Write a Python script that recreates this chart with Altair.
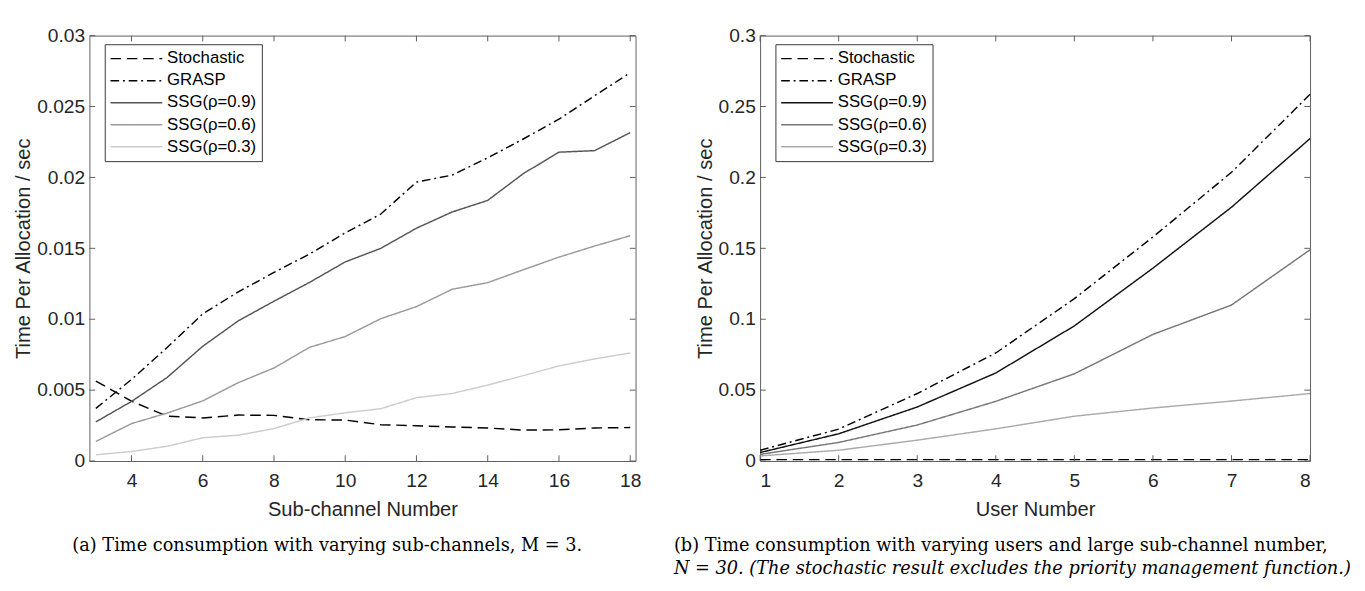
import altair as alt
import pandas as pd

# ---------------- data ----------------
series_names = ["Stochastic", "GRASP", "SSG(ρ=0.9)", "SSG(ρ=0.6)", "SSG(ρ=0.3)"]

sub_channels = [3, 4, 5, 6, 7, 8, 9, 10, 11, 12, 13, 14, 15, 16, 17, 18]
a_stochastic = [0.00564, 0.00422, 0.00316, 0.00304, 0.00324, 0.00322, 0.00291, 0.00289,
                0.00256, 0.00249, 0.00240, 0.00233, 0.00218, 0.00220, 0.00233, 0.00236]
a_grasp = [0.00371, 0.00575, 0.00800, 0.01038, 0.01193, 0.01330, 0.01460, 0.01609,
           0.01742, 0.01967, 0.02016, 0.02138, 0.02271, 0.02411, 0.02576, 0.02738]
a_ssg09 = [0.00276, 0.00420, 0.00589, 0.00809, 0.00989, 0.01127, 0.01260, 0.01404,
           0.01500, 0.01642, 0.01756, 0.01838, 0.02027, 0.02178, 0.02189, 0.02316]
a_ssg06 = [0.00138, 0.00264, 0.00338, 0.00424, 0.00553, 0.00656, 0.00802, 0.00878,
           0.01004, 0.01089, 0.01211, 0.01258, 0.01349, 0.01438, 0.01516, 0.01589]
a_ssg03 = [0.00044, 0.00067, 0.00104, 0.00164, 0.00182, 0.00229, 0.00304, 0.00340,
           0.00369, 0.00447, 0.00476, 0.00536, 0.00602, 0.00671, 0.00720, 0.00762]

users = [1, 2, 3, 4, 5, 6, 7, 8]
b_stochastic = [0.0010, 0.0010, 0.0010, 0.0010, 0.0010, 0.0010, 0.0010, 0.0010]
b_grasp = [0.0076, 0.0225, 0.0476, 0.0762, 0.1145, 0.1580, 0.2036, 0.2586]
b_ssg09 = [0.0060, 0.0192, 0.0381, 0.0621, 0.0953, 0.1360, 0.1790, 0.2274]
b_ssg06 = [0.0047, 0.0131, 0.0254, 0.0421, 0.0615, 0.0893, 0.1100, 0.1490]
b_ssg03 = [0.0036, 0.0076, 0.0147, 0.0227, 0.0316, 0.0374, 0.0423, 0.0476]

a_xticks = [4, 6, 8, 10, 12, 14, 16, 18]
a_yticks = [0, 0.005, 0.01, 0.015, 0.02, 0.025, 0.03]
b_xticks = [1, 2, 3, 4, 5, 6, 7, 8]
b_yticks = [0, 0.05, 0.1, 0.15, 0.2, 0.25, 0.3]

caption_a = "(a) Time consumption with varying sub-channels, M = 3."
caption_b1 = "(b) Time consumption with varying users and large sub-channel number,"
caption_b2 = "N = 30. (The stochastic result excludes the priority management function.)"

# ---------------- styling ----------------
SANS = "Liberation Sans"
SERIF = "DejaVu Serif"
AXIS_COLOR = "#5a5a5a"
TEXT_COLOR = "#262626"
dashes = [[11, 6], [9, 4, 2, 4], [1, 0], [1, 0], [1, 0]]


def long_frame(xs, cols):
    rows = []
    for name, vals in zip(series_names, cols):
        for x, v in zip(xs, vals):
            rows.append({"x": x, "value": v, "series": name})
    return pd.DataFrame(rows)


def panel(xs, cols, colors, xdom, ydom, xticks, yticks, yfmt, xtitle, W, H, title):
    df = long_frame(xs, cols)
    xs_scale = alt.Scale(domain=xdom, nice=False, zero=False)
    ys_scale = alt.Scale(domain=ydom, nice=False, zero=False)
    x_axis = alt.Axis(values=xticks, ticks=False, domain=False, grid=False,
                      title=xtitle, labelPadding=11, titlePadding=9,
                      labelFont=SANS, labelFontSize=20, labelColor=TEXT_COLOR,
                      titleFont=SANS, titleFontSize=21, titleFontWeight="normal",
                      titleColor=TEXT_COLOR)
    y_axis = alt.Axis(values=yticks, format=yfmt, ticks=False, domain=False, grid=False,
                      title="Time Per Allocation / sec", labelPadding=5, titlePadding=3,
                      labelFont=SANS, labelFontSize=20, labelColor=TEXT_COLOR,
                      titleFont=SANS, titleFontSize=21, titleFontWeight="normal",
                      titleColor=TEXT_COLOR)
    leg = alt.Legend(
        title=None, orient="none", legendX=16, legendY=9,
        symbolType="stroke", symbolSize=2916, symbolStrokeWidth=1.5,
        labelFont=SANS, labelFontSize=17.5, labelColor="black",
        strokeColor="#333333", fillColor="white", padding=5,
        rowPadding=3, clipHeight=20, labelOffset=4, labelLimit=300,
    )
    lines = alt.Chart(df).mark_line(strokeWidth=1.5).encode(
        x=alt.X("x:Q", scale=xs_scale, axis=x_axis),
        y=alt.Y("value:Q", scale=ys_scale, axis=y_axis),
        color=alt.Color("series:N", sort=series_names,
                        scale=alt.Scale(domain=series_names, range=colors), legend=leg),
        strokeDash=alt.StrokeDash("series:N", sort=series_names,
                                  scale=alt.Scale(domain=series_names, range=dashes), legend=leg),
    )
    xt = pd.DataFrame({"v": xticks})
    yt = pd.DataFrame({"v": yticks})
    tick_b = alt.Chart(xt).mark_rule(color=AXIS_COLOR).encode(
        x=alt.X("v:Q", scale=xs_scale, axis=x_axis), y=alt.value(H), y2=alt.value(H - 6))
    tick_t = alt.Chart(xt).mark_rule(color=AXIS_COLOR).encode(
        x=alt.X("v:Q", scale=xs_scale, axis=x_axis), y=alt.value(0), y2=alt.value(6))
    tick_l = alt.Chart(yt).mark_rule(color=AXIS_COLOR).encode(
        y=alt.Y("v:Q", scale=ys_scale, axis=y_axis), x=alt.value(0), x2=alt.value(6))
    tick_r = alt.Chart(yt).mark_rule(color=AXIS_COLOR).encode(
        y=alt.Y("v:Q", scale=ys_scale, axis=y_axis), x=alt.value(W - 6), x2=alt.value(W))
    return alt.layer(lines, tick_b, tick_t, tick_l, tick_r).properties(
        width=W, height=H, title=title)


title_a = alt.Title(caption_a, orient="bottom", anchor="middle", frame="bounds",
                    font=SERIF, fontSize=18.5, fontWeight="normal", color="black", offset=18)
title_b = alt.Title(caption_b1, subtitle=caption_b2, orient="bottom", anchor="start", frame="bounds",
                    font=SERIF, fontSize=18.5, fontWeight="normal", color="black", offset=18,
                    subtitleFont=SERIF, subtitleFontSize=18.5, subtitleFontStyle="italic",
                    subtitleColor="black", subtitlePadding=5, dx=-22)

left = panel(sub_channels, [a_stochastic, a_grasp, a_ssg09, a_ssg06, a_ssg03],
             ["#000000", "#000000", "#555555", "#9a9a9a", "#cccccc"],
             [2.82, 18.15], [0, 0.03], a_xticks, a_yticks, ".3~f", "Sub-channel Number",
             570, 444, title_a)
right = panel(users, [b_stochastic, b_grasp, b_ssg09, b_ssg06, b_ssg03],
              ["#000000", "#000000", "#111111", "#777777", "#aaaaaa"],
              [1, 8], [0, 0.3], b_xticks, b_yticks, ".2~f", "User Number",
              574, 444, title_b)

chart = alt.hconcat(left, right, spacing=32).resolve_scale(
    color="independent", strokeDash="independent", x="independent", y="independent"
).resolve_legend(color="independent", strokeDash="independent").configure_view(
    stroke=AXIS_COLOR, strokeWidth=1
).properties(background="white")

chart.save("out.html", embed_options={"renderer": "svg", "actions": False})
